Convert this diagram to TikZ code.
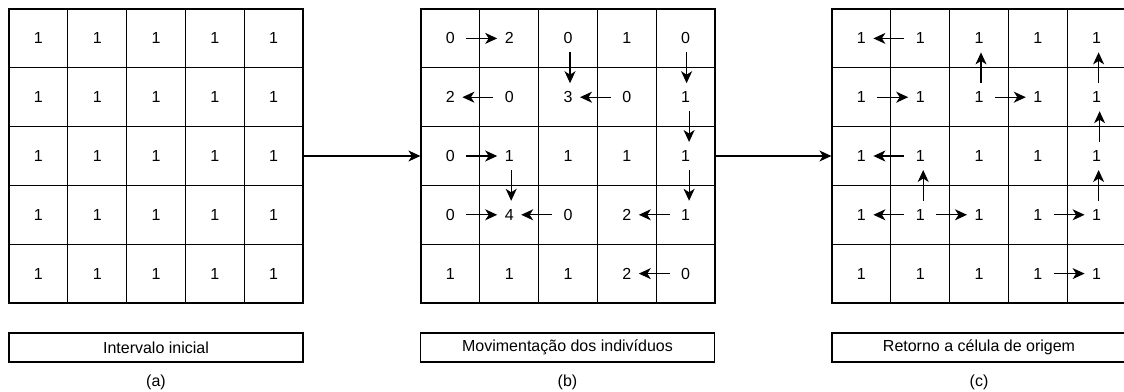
\documentclass[tikz,border=0pt]{standalone}
\usepackage{fontspec}
\setmainfont{Liberation Sans}
\usetikzlibrary{arrows.meta}
\begin{document}
\begin{tikzpicture}[x=1pt,y=-1pt,
  txt/.style={font=\fontsize{16}{19}\selectfont},
  cell/.style={txt, draw, line width=1.2pt, minimum width=58.8pt, minimum height=58.8pt, inner sep=0pt},
  labelbox/.style={txt, draw, line width=1.2pt, minimum width=294pt, minimum height=29pt, inner sep=0pt},
  tip/.style={-{Stealth[length=12pt,width=11pt,inset=3.5pt]}, line width=1.2pt},
  hmove/.style={tip, shorten <=16pt, shorten >=12pt},
  vmove/.style={tip, shorten <=14pt, shorten >=14pt},
  flow/.style={tip}]
\useasboundingbox (0,0) rectangle (1124,391);

% (a) initial interval: every cell holds one individual
\foreach \r in {1,...,5}
  \foreach \c in {1,...,5}
    \node[cell] (a-\r-\c) at ({9+(\c-0.5)*58.8},{9+(\r-0.5)*58.8}) {1};

% (b) counts after the individuals have moved
\foreach \r/\row in {1/{0,2,0,1,0},2/{2,0,3,0,1},3/{0,1,1,1,1},4/{0,4,0,2,1},5/{1,1,1,2,0}}
  \foreach \v [count=\c] in \row
    \node[cell] (b-\r-\c) at ({421+(\c-0.5)*58.8},{9+(\r-0.5)*58.8}) {\v};

% (c) every individual back in its cell of origin
\foreach \r in {1,...,5}
  \foreach \c in {1,...,5}
    \node[cell] (c-\r-\c) at ({832+(\c-0.5)*58.8},{9+(\r-0.5)*58.8}) {1};

% transitions between the three stages
\draw[flow] (a-3-5.east) -- (b-3-1.west);
\draw[flow] (b-3-5.east) -- (c-3-1.west);

% movements in (b)
\draw[hmove] (b-1-1.center) -- (b-1-2.center);
\draw[vmove] ([xshift=2pt]b-1-3.center) -- ([xshift=2pt]b-2-3.center);
\draw[vmove] ([xshift=1pt]b-1-5.center) -- ([xshift=1pt]b-2-5.center);
\draw[hmove] (b-2-2.center) -- (b-2-1.center);
\draw[hmove] (b-2-4.center) -- (b-2-3.center);
\draw[vmove] ([xshift=3.5pt]b-2-5.center) -- ([xshift=3.5pt]b-3-5.center);
\draw[hmove] (b-3-1.center) -- (b-3-2.center);
\draw[vmove] ([xshift=2pt]b-3-2.center) -- ([xshift=2pt]b-4-2.center);
\draw[vmove] ([xshift=3.5pt]b-3-5.center) -- ([xshift=3.5pt]b-4-5.center);
\draw[hmove] (b-4-1.center) -- (b-4-2.center);
\draw[hmove] (b-4-3.center) -- (b-4-2.center);
\draw[hmove] (b-4-5.center) -- (b-4-4.center);
\draw[hmove] (b-5-5.center) -- (b-5-4.center);

% return movements in (c)
\draw[hmove] (c-1-2.center) -- (c-1-1.center);
\draw[vmove] ([xshift=2pt]c-2-3.center) -- ([xshift=2pt]c-1-3.center);
\draw[vmove] ([xshift=2pt]c-2-5.center) -- ([xshift=2pt]c-1-5.center);
\draw[hmove] (c-2-1.center) -- (c-2-2.center);
\draw[hmove] (c-2-3.center) -- (c-2-4.center);
\draw[vmove] ([xshift=3pt]c-3-5.center) -- ([xshift=3pt]c-2-5.center);
\draw[hmove] (c-3-2.center) -- (c-3-1.center);
\draw[vmove] ([xshift=3pt]c-4-2.center) -- ([xshift=3pt]c-3-2.center);
\draw[vmove] ([xshift=2pt]c-4-5.center) -- ([xshift=2pt]c-3-5.center);
\draw[hmove] (c-4-2.center) -- (c-4-1.center);
\draw[hmove] (c-4-2.center) -- (c-4-3.center);
\draw[hmove] (c-4-4.center) -- (c-4-5.center);
\draw[hmove] (c-5-4.center) -- (c-5-5.center);

% captions
\node[labelbox] (la) at (156,347.5) {Intervalo inicial};
\node[labelbox] (lb) at (567.5,347.5) {Movimentação dos indivíduos};
\node[labelbox] (lc) at (979,347.5) {Retorno a célula de origem};
\node[txt] (ca) at (156,382) {(a)};
\node[txt] (cb) at (567.5,382) {(b)};
\node[txt] (cc) at (979,382) {(c)};
\end{tikzpicture}
\end{document}
